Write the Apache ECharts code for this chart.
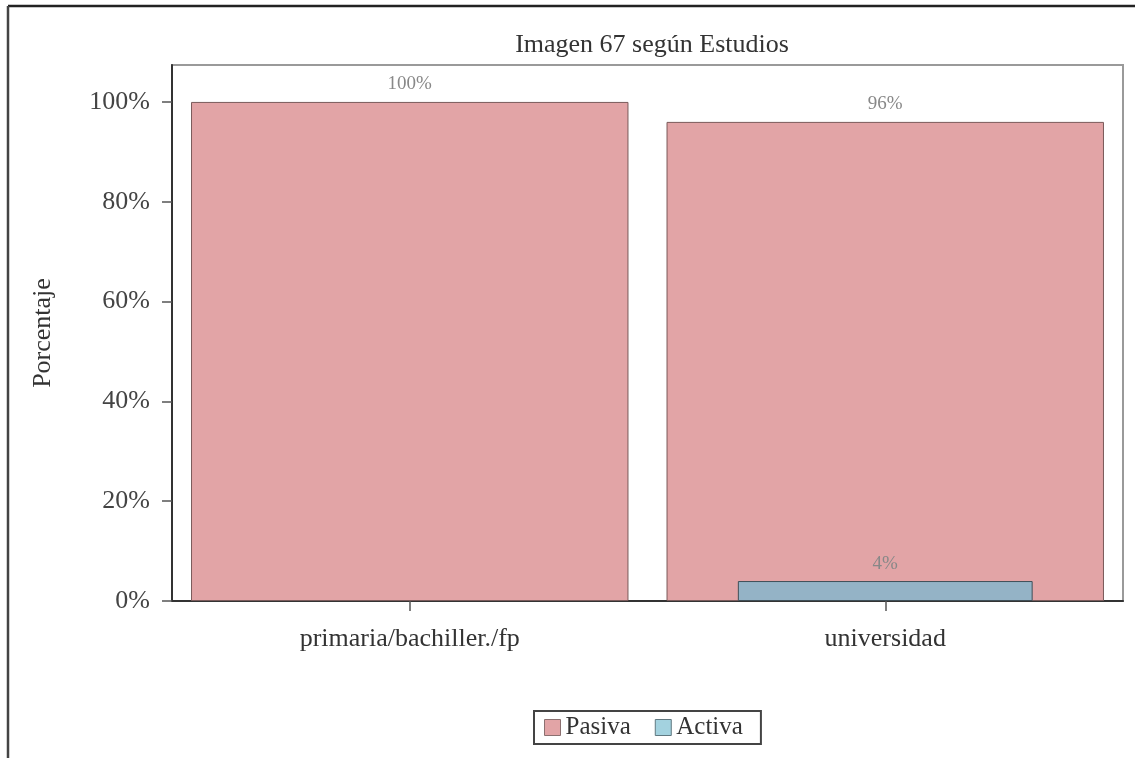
<!DOCTYPE html>
<html>
<head>
<meta charset="utf-8">
<script src="https://cdn.jsdelivr.net/npm/echarts@6/dist/echarts.min.js"></script>
<style>
html,body{margin:0;padding:0;background:#fff;}
#chart{width:1135px;height:758px;}
</style>
</head>
<body>
<div id="chart"></div>
<script>
const categories = ['primaria/bachiller./fp', 'universidad'];
const pasiva = [100, 96];
const activa = [null, 4];
const seriesNames = ['Pasiva', 'Activa'];
const yTicks = [0, 20, 40, 60, 80, 100];
const titleText = 'Imagen 67 según Estudios';
const yAxisName = 'Porcentaje';

const FONT = '"Liberation Serif", "DejaVu Serif", "Times New Roman", serif';
const chart = echarts.init(document.getElementById('chart'), null, {renderer: 'canvas'});

chart.setOption({
  backgroundColor: '#ffffff',
  animation: false,
  title: {
    text: titleText,
    left: 647, textAlign: 'center',
    top: 27,
    textStyle: {fontFamily: FONT, fontWeight: 'normal', fontSize: 26, color: '#333'}
  },
  graphic: [
    {type: 'line', shape: {x1: 8, y1: 6, x2: 1135, y2: 6}, style: {stroke: '#222', lineWidth: 2.5}},
    {type: 'line', shape: {x1: 8, y1: 6, x2: 8, y2: 758}, style: {stroke: '#444', lineWidth: 2.5}}
  ],
  legend: {
    data: [
      {name: 'Pasiva', icon: 'rect', itemStyle: {color: '#E2A4A6', borderColor: '#8b7070', borderWidth: 1}},
      {name: 'Activa', icon: 'rect', itemStyle: {color: '#A3D2DF', borderColor: '#607880', borderWidth: 1}}
    ],
    left: 534, top: 711,
    itemWidth: 16, itemHeight: 16, itemGap: 24,
    padding: [4, 18, 4, 10],
    borderColor: '#444', borderWidth: 2,
    textStyle: {fontFamily: FONT, fontSize: 25, color: '#333'}
  },
  grid: {
    left: 172, top: 65, right: 12, bottom: 157,
    show: true, borderColor: '#9a9a9a', borderWidth: 2
  },
  xAxis: [
    {
      type: 'category', data: categories,
      axisLine: {show: true, lineStyle: {color: '#333', width: 2}},
      axisTick: {show: true, alignWithLabel: true, length: 10, lineStyle: {color: '#555', width: 1.5}},
      axisLabel: {fontFamily: FONT, fontSize: 26, color: '#333', margin: 25}
    },
    {
      type: 'category', data: categories, show: false
    }
  ],
  yAxis: {
    type: 'value', min: 0, max: 107.4, interval: 20,
    name: yAxisName, nameLocation: 'middle', nameGap: 116, nameRotate: 90,
    nameTextStyle: {fontFamily: FONT, fontSize: 26, color: '#333'},
    axisLine: {show: true, lineStyle: {color: '#333', width: 2}},
    axisTick: {show: true, length: 10, customValues: yTicks, lineStyle: {color: '#555', width: 1.5}},
    splitLine: {show: false},
    axisLabel: {
      fontFamily: FONT, fontSize: 26, color: '#444', margin: 22,
      customValues: yTicks,
      formatter: function (v) { return v + '%'; }
    }
  },
  series: [
    {
      name: seriesNames[0], type: 'bar', xAxisIndex: 0, data: pasiva,
      barWidth: '92%',
      itemStyle: {color: '#E2A4A6', borderColor: '#7a5a5a', borderWidth: 1},
      label: {show: true, position: 'top', distance: 8, formatter: '{c}%',
              fontFamily: FONT, fontSize: 19, color: '#888'}
    },
    {
      name: seriesNames[1], type: 'bar', xAxisIndex: 1, data: activa,
      barWidth: '62%',
      itemStyle: {color: '#94B3C6', borderColor: '#3f4f58', borderWidth: 1},
      label: {show: true, position: 'top', distance: 8, formatter: '{c}%',
              fontFamily: FONT, fontSize: 19, color: '#888'}
    }
  ]
});
</script>
</body>
</html>
